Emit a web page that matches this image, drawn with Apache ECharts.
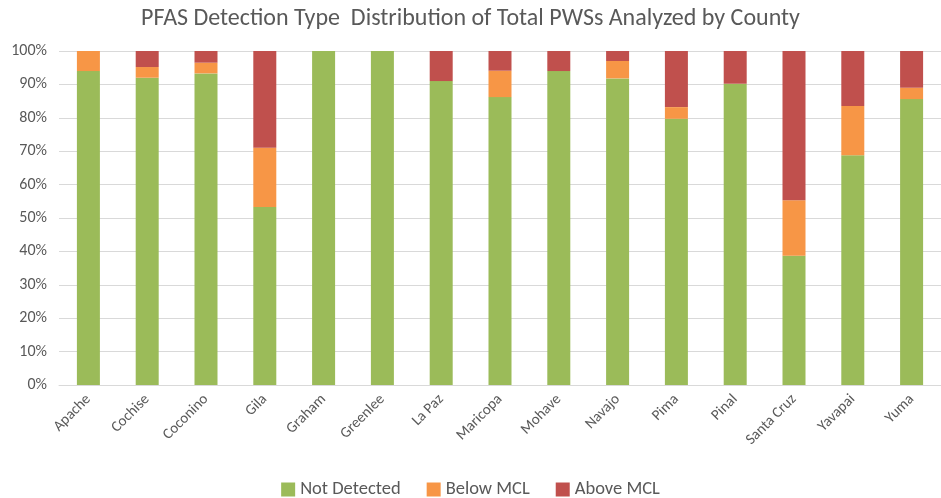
<!DOCTYPE html>
<html>
<head>
<meta charset="utf-8">
<script src="https://cdn.jsdelivr.net/npm/echarts@6/dist/echarts.min.js"></script>
<style>
  html, body {margin: 0; padding: 0; background: #fff;}
  #chart {width: 941px; height: 498px;}
</style>
</head>
<body>
<div id="chart"></div>
<script>
const counties = ['Apache', 'Cochise', 'Coconino', 'Gila', 'Graham', 'Greenlee', 'La Paz', 'Maricopa',
  'Mohave', 'Navajo', 'Pima', 'Pinal', 'Santa Cruz', 'Yavapai', 'Yuma'];
// percent of PWSs analyzed in each county
const notDetected = [94, 92, 93.3, 53.3, 100, 100, 91, 86.2, 94, 91.8, 79.7, 90.2, 38.7, 68.8, 85.6];
const belowMCL = [6, 3.2, 3.2, 17.7, 0, 0, 0, 7.9, 0, 5.2, 3.5, 0, 16.6, 14.7, 3.4];
const aboveMCL = [0, 4.8, 3.5, 29, 0, 0, 9, 5.9, 6, 3, 16.8, 9.8, 44.7, 16.5, 11];
const yTicks = [0, 10, 20, 30, 40, 50, 60, 70, 80, 90, 100];

let chart = echarts.init(document.getElementById('chart'));
let font = 'Calibri, Carlito, Lato, "Open Sans", sans-serif';
let mkSeries = (name, data, color) => ({
  name: name, type: 'bar', stack: 'total', data: data,
  barWidth: 23, itemStyle: {color: color}
});
let options = {
  animation: false,
  textStyle: {fontFamily: font},
  title: {
    text: 'PFAS Detection Type  Distribution of Total PWSs Analyzed by County',
    left: 'center', top: 2,
    textStyle: {fontSize: 24, fontWeight: 'normal', color: '#595959', fontFamily: font}
  },
  legend: {
    top: 475, left: 'center', itemWidth: 14, itemHeight: 14, itemGap: 26,
    icon: 'rect',
    textStyle: {fontSize: 18.5, color: '#595959', fontFamily: font}
  },
  grid: {left: 59, width: 891, top: 51, bottom: 113},
  xAxis: {
    type: 'category', data: counties,
    axisLine: {lineStyle: {color: '#d9d9d9'}},
    axisTick: {show: false},
    axisLabel: {rotate: 45, fontSize: 15, color: '#595959', margin: 12, interval: 0, fontFamily: font}
  },
  yAxis: {
    type: 'value', min: yTicks[0], max: yTicks[yTicks.length - 1], interval: 10,
    axisLabel: {formatter: '{value}%', fontSize: 16, color: '#595959', margin: 12, fontFamily: font},
    splitLine: {lineStyle: {color: '#d9d9d9'}},
    axisLine: {show: false}, axisTick: {show: false}
  },
  series: [
    mkSeries('Not Detected', notDetected, '#9bbb59'),
    mkSeries('Below MCL', belowMCL, '#f79646'),
    mkSeries('Above MCL', aboveMCL, '#c0504d')
  ]
};
chart.setOption(options);
</script>
</body>
</html>
